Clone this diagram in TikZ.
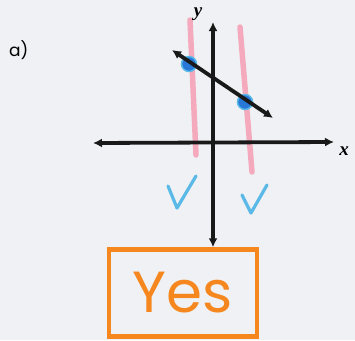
\documentclass[tikz,border=0pt]{standalone}
\usepackage{fontspec}
\setmainfont{Poppins}
\newfontfamily\axfont{Liberation Serif}
\usetikzlibrary{arrows.meta}
\definecolor{bg}{RGB}{239,241,244}
\definecolor{pinkl}{RGB}{244,170,188}
\definecolor{dotblue}{RGB}{40,120,215}
\definecolor{checkc}{RGB}{90,185,230}
\definecolor{orng}{RGB}{245,135,30}
\tikzset{
  axis/.style={line width=3.8pt, black!90, -{Latex[length=9pt,width=9pt]}},
  biaxis/.style={line width=3.8pt, black!90, {Latex[length=9pt,width=9pt]}-{Latex[length=9pt,width=9pt]}},
  pinkline/.style={line width=5.5pt, pinkl, line cap=round},
  dotstyle/.style={circle, fill=dotblue, minimum size=15pt, inner sep=0pt, draw=checkc, line width=1.5pt},
  checkstyle/.style={line width=3.2pt, checkc, line cap=round, line join=round},
  lbl/.style={inner sep=0pt, font=\axfont\bfseries\itshape\fontsize{19}{19}\selectfont},
  yesbox/.style={draw=orng, line width=4.5pt, minimum width=148pt, minimum height=87pt, inner sep=0pt, text=orng, font=\fontsize{58}{58}\selectfont}
}
\begin{document}
\begin{tikzpicture}[x=1pt,y=-1pt]
\fill[bg] (0,0) rectangle (355,340);
\useasboundingbox (0,0) rectangle (355,340);
\node[inner sep=0pt, font=\fontsize{17}{17}\selectfont, anchor=west] (lab) at (9,50) {a)};
% pink lines
\coordinate (p1t) at (190,20); \coordinate (p1b) at (196,155);
\coordinate (p2t) at (240,27); \coordinate (p2b) at (252,172);
\draw[pinkline] (p1t) -- (p1b);
\draw[pinkline] (p2t) -- (p2b);
% box
\node[yesbox] (yes) at (183,293) {Yes};
% axes
\coordinate (ytop) at (213,22);
\coordinate (ymid) at (213,150);
\coordinate (xl) at (93,143);
\coordinate (xr) at (334,142);
\draw[axis] (ymid) -- (ytop);
\draw[axis] (ymid) -- (ymid |- yes.north);
\draw[biaxis] (xl) -- (xr);
\node[lbl] (ylab) at (198,14) {y};
\node[lbl] (xlab) at (344,151) {x};
% slanted line
\coordinate (la) at (172,50);
\coordinate (lb) at (273,118);
\node[dotstyle] (d1) at (189,64) {};
\node[dotstyle] (d2) at (245,102) {};
\draw[biaxis] (la) -- (lb);
% checks
\coordinate (c1a) at (168,186); \coordinate (c1b) at (177,208); \coordinate (c1c) at (196,176);
\coordinate (c2a) at (242,195); \coordinate (c2b) at (251,213); \coordinate (c2c) at (267,185);
\draw[checkstyle] (c1a) -- (c1b) -- (c1c);
\draw[checkstyle] (c2a) -- (c2b) -- (c2c);
\end{tikzpicture}
\end{document}
